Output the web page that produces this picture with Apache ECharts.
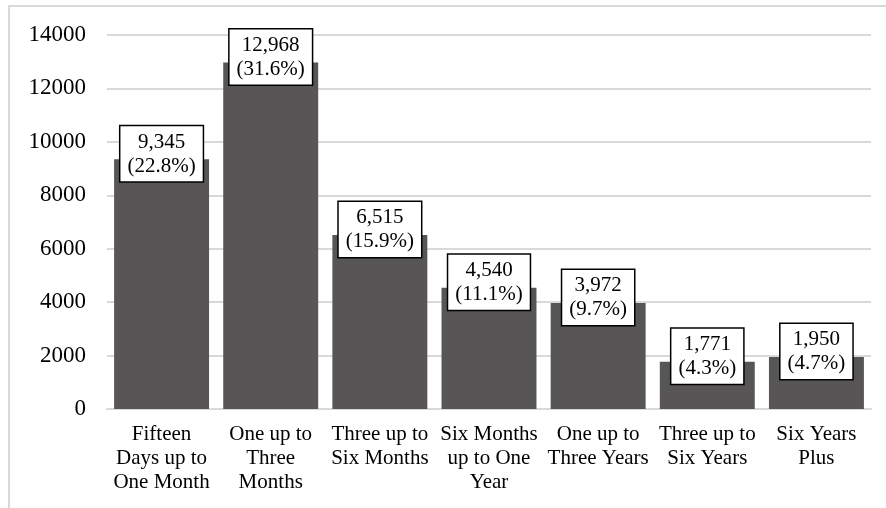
<!DOCTYPE html>
<html><head><meta charset="utf-8">
<script src="https://cdn.jsdelivr.net/npm/echarts@6/dist/echarts.min.js"></script>
<style>html,body{margin:0;padding:0;background:#fff;}#c{width:886px;height:508px;}</style>
</head><body><div id="c"></div>
<script>
const categories = ['Fifteen\nDays up to\nOne Month','One up to\nThree\nMonths','Three up to\nSix Months','Six Months\nup to One\nYear','One up to\nThree Years','Three up to\nSix Years','Six Years\nPlus'];
const values = [9345, 12968, 6515, 4540, 3972, 1771, 1950];
const percents = ['22.8%','31.6%','15.9%','11.1%','9.7%','4.3%','4.7%'];
const yTicks = {min: 0, max: 14000, interval: 2000};
const font = '"Liberation Serif","Times New Roman",serif';
const chart = echarts.init(document.getElementById('c'));
chart.setOption({
  animation: false,
  textStyle: {fontFamily: font},
  graphic: [{type: 'rect', shape: {x: 9, y: 6, width: 900, height: 520}, style: {fill: 'none', stroke: '#d9d9d9', lineWidth: 2}, silent: true}],
  grid: {left: 107, right: 15, top: 35, bottom: 99},
  xAxis: {
    type: 'category', data: categories,
    axisLine: {lineStyle: {color: '#d9d9d9', width: 2}},
    axisTick: {show: false},
    axisLabel: {color: '#000', fontSize: 21, lineHeight: 24, fontFamily: font, interval: 0, margin: 13}
  },
  yAxis: {
    type: 'value', min: yTicks.min, max: yTicks.max, interval: yTicks.interval,
    axisLine: {show: false}, axisTick: {show: false},
    splitLine: {lineStyle: {color: '#d9d9d9', width: 2}},
    axisLabel: {color: '#000', fontSize: 23, fontFamily: font, margin: 21, formatter: v => String(v)}
  },
  series: [{
    type: 'bar', data: values, barCategoryGap: '13%',
    itemStyle: {color: '#575556'},
    label: {
      show: true, position: 'top', distance: -22,
      formatter: p => p.value.toLocaleString('en-US') + '\n(' + percents[p.dataIndex] + ')',
      color: '#000', fontSize: 21, lineHeight: 24, fontFamily: font,
      backgroundColor: '#fff', borderColor: '#000', borderWidth: 1.5,
      padding: [4, 7, 3, 7], align: 'center'
    }
  }]
});
</script></body></html>
